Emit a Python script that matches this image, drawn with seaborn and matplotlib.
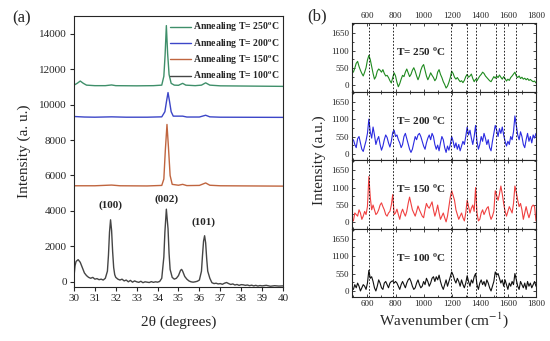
import matplotlib
matplotlib.use("Agg")
import matplotlib.pyplot as plt
import numpy as np
import seaborn as sns

# ---- XRD data (panel a) ----
xrd_x_100 = [30.0, 30.05, 30.1, 30.2, 30.3, 30.4, 30.5, 30.6, 30.7, 30.8, 30.9, 31.0, 31.1, 31.2,
             31.3, 31.4, 31.5, 31.6, 31.65, 31.7, 31.75, 31.8, 31.85, 31.9, 31.95, 32.0, 32.1, 32.2,
             32.3, 32.4, 32.5, 32.6, 32.7, 32.8, 32.9, 33.0, 33.1, 33.2, 33.3, 33.4, 33.5, 33.6, 33.7,
             33.8, 33.9, 34.0, 34.1, 34.2, 34.3, 34.35, 34.42, 34.5, 34.55, 34.6, 34.7, 34.8, 34.9,
             35.0, 35.1, 35.15, 35.2, 35.3, 35.4, 35.5, 35.6, 35.7, 35.8, 35.9, 36.0, 36.1, 36.15,
             36.2, 36.25, 36.3, 36.35, 36.4, 36.5, 36.6, 36.7, 36.8, 36.9, 37.0, 37.1, 37.2, 37.3,
             37.4, 37.5, 37.6, 37.7, 37.8, 37.9, 38.0, 38.1, 38.2, 38.3, 38.4, 38.5, 38.6, 38.7,
             38.8, 38.9, 39.0, 39.2, 39.4, 39.6, 39.8, 40.0]
xrd_y_100 = [300, 900, 1150, 1250, 1100, 800, 500, 350, 250, 200, 250, 150, 180, 120,
             150, 100, 200, 600, 1500, 2800, 3500, 2900, 1700, 800, 400, 250, 150, 100,
             150, 50, 100, 0, 80, -20, 50, 0, -30, 30, -50, 0, -20, -40, 10,
             -30, 0, -20, 20, 200, 1400, 2800, 4100, 3000, 1600, 700, 250, 150, 200,
             350, 650, 700, 600, 300, 150, 50, 0, -20, 0, 30, 100, 600, 1500,
             2300, 2600, 2200, 1300, 600, 200, -50, -100, -80, -120, -100, -140, -80, -40,
             -100, -150, -120, -180, -150, -200, -160, -170, -200, -180, -220, -190, -230, -200,
             -240, -210, -230, -200, -250, -220, -240, -230]

xrd_x_150 = [30.0, 31.0, 31.8, 32.2, 33.5, 34.2, 34.3, 34.37, 34.45, 34.52, 34.6, 34.7, 35.0,
             35.2, 35.4, 36.0, 36.3, 36.5, 37.0, 40.0]
xrd_y_150 = [5420, 5420, 5460, 5420, 5410, 5440, 5800, 7400, 8880, 7600, 6000, 5500, 5450,
             5500, 5430, 5440, 5580, 5450, 5420, 5400]

xrd_x_200 = [30.0, 30.5, 31.0, 31.8, 32.5, 33.5, 34.2, 34.35, 34.43, 34.5, 34.57, 34.65, 34.75,
             35.2, 35.4, 36.0, 36.3, 36.5, 37.0, 40.0]
xrd_y_200 = [9330, 9300, 9290, 9310, 9290, 9290, 9310, 9600, 10200, 10680, 10200, 9600, 9350,
             9350, 9300, 9300, 9400, 9310, 9290, 9280]

xrd_x_250 = [30.0, 30.15, 30.3, 30.45, 30.6, 31.0, 31.5, 31.8, 32.0, 33.0, 33.8, 34.2, 34.3,
             34.36, 34.42, 34.48, 34.55, 34.65, 34.8, 35.0, 35.2, 35.35, 35.8, 36.1, 36.3, 36.5,
             37.0, 38.0, 39.0, 40.0]
xrd_y_250 = [11100, 11200, 11330, 11200, 11100, 11070, 11070, 11110, 11070, 11060, 11070, 11100,
             11600, 12800, 14460, 12900, 11700, 11200, 11100, 11090, 11200, 11100, 11070, 11100,
             11230, 11100, 11060, 11050, 11040, 11030]

xrd_labels = ["Annealing T= 250$^{\\mathbf{o}}$C", "Annealing T= 200$^{\\mathbf{o}}$C",
              "Annealing T= 150$^{\\mathbf{o}}$C", "Annealing T= 100$^{\\mathbf{o}}$C"]
peak_names = ["(100)", "(002)", "(101)"]
peak_x = [31.75, 34.42, 36.22]
peak_y = [4350, 4690, 3390]

# ---- Raman data (panel b), 500..1800 cm-1 every 10 ----
wavenumber = list(range(500, 1801, 10))
raman_250 = [420, 550, 700, 760, 600, 480, 380, 300, 420, 560, 800, 950, 820, 600, 380, 200,
             280, 450, 520, 480, 420, 500, 380, 300, 320, 250, 150, 80, 250, 400, 300, 100,
             -40, 60, 200, 320, 280, 420, 520, 400, 280, 350, 480, 560, 450, 300, 180, 300,
             480, 600, 660, 480, 300, 180, 280, 400, 320, 250, 150, 220, 420, 500, 350, 250,
             120, 30, -80, -20, 100, 250, 450, 380, 260, 200, 250, 180, 120, 150, 90, 160,
             280, 350, 260, 300, 360, 220, 120, 200, 150, 230, 300, 350, 420, 380, 300, 250,
             200, 150, 120, 200, 280, 230, 300, 250, 330, 260, 200, 280, 220, 140, 200, 160,
             250, 300, 360, 420, 300, 250, 300, 220, 260, 200, 230, 180, 220, 160, 190, 150,
             120, 140, 80]
raman_200 = [450, 300, 200, 480, 550, 350, 150, 80, 250, 420, 650, 1100, 700, 500, 850, 600,
             300, 450, 550, 300, 120, 250, 450, 600, 520, 350, 220, 400, 680, 750, 550, 600,
             450, 350, 200, 300, 550, 650, 480, 300, 150, 50, 150, 350, 550, 450, 600, 650,
             550, 400, 250, 150, 350, 500, 600, 450, 650, 550, 300, 150, 280, 100, 350, 550,
             450, 200, 50, 250, 120, 300, 550, 400, 200, 350, 150, 300, 100, 250, 400, 300,
             550, 850, 600, 750, 500, 300, 550, 900, 400, 150, 300, 550, 400, 650, 500, 300,
             450, 200, 100, 400, 650, 900, 750, 550, 800, 650, 850, 600, 400, 250, 400, 300,
             550, 450, 700, 1200, 900, 600, 450, 700, 550, 300, 200, 450, 650, 400, 550, 350,
             600, 500, 650]
raman_150 = [50, 300, 250, 200, 400, 300, 100, 200, 350, 250, 500, 1450, 800, 400, 550, 400,
             250, 300, 400, 550, 620, 500, 400, 250, 200, 300, 350, 550, 880, 250, 300, 420,
             250, 100, 300, 420, 300, 200, 350, 600, 800, 600, 400, 300, 200, 350, 520, 400,
             300, 200, 150, 400, 600, 500, 450, 550, 650, 400, 200, 350, 550, 300, 100, 200,
             300, 150, 20, 200, 500, 800, 1000, 850, 700, 400, 250, 100, 200, 300, 150, 50,
             300, 700, 500, 300, 450, 550, 350, 1100, 300, 50, 100, 300, 400, 250, 350, 450,
             500, 250, 100, 200, 350, 1000, 850, 700, 900, 1150, 900, 600, 350, 200, 350, 500,
             400, 300, 600, 1150, 950, 700, 500, 600, 400, 100, 300, 500, 300, 150, 300, 500,
             550, 500, 50]
raman_100 = [50, 200, 100, 250, 150, 0, 100, 200, 150, 50, 250, 650, 400, 450, 300, 100,
             0, 150, 350, 250, 100, 50, 250, 300, 200, 100, 250, 300, 320, 250, 300, 250,
             150, 50, 200, 300, 200, 100, 250, 350, 400, 300, 150, 50, 100, 250, 350, 200,
             100, 150, 300, 200, 400, 300, 150, 250, 400, 450, 300, 450, 350, 500, 300, 150,
             50, 200, 350, 150, 300, 450, 600, 500, 350, 250, 400, 300, 150, 350, 200, 100,
             250, 480, 300, 150, 350, 250, 450, 550, 200, 50, 250, 350, 200, 300, 150, 350,
             250, 100, 0, 150, 300, 600, 500, 550, 400, 250, 350, 150, 350, 200, 50, 250,
             150, 300, 200, 550, 350, 150, 50, 300, 200, 100, 250, 50, 300, 150, 250, 100,
             200, 300, 150]
raman_titles = ["T= 250 $^{\\mathbf{o}}$C", "T= 200 $^{\\mathbf{o}}$C",
                "T= 150 $^{\\mathbf{o}}$C", "T= 100 $^{\\mathbf{o}}$C"]
dashed_pos = [610, 780, 1195, 1310, 1370, 1515, 1575, 1655]

xrd_colors = ["#3f8f6a", "#3c46c8", "#c0653f", "#454545"]
raman_colors = ["#1f8a1f", "#2a2ae0", "#f04040", "#111111"]

sns.set_style("ticks")
plt.rcParams["font.family"] = ["Liberation Serif", "DejaVu Serif"]
plt.rcParams["mathtext.fontset"] = "stix"
plt.rcParams["axes.linewidth"] = 0.8

fig = plt.figure(figsize=(5.5, 3.41), dpi=100)

# ---- panel (a) ----
ax = fig.add_axes([0.1345, 0.158, 0.380, 0.795])
xrd_sets = [(xrd_x_250, xrd_y_250), (xrd_x_200, xrd_y_200),
            (xrd_x_150, xrd_y_150), (xrd_x_100, xrd_y_100)]
for (xs, ys), c, lab in zip(xrd_sets, xrd_colors, xrd_labels):
    sns.lineplot(x=xs, y=ys, ax=ax, color=c, lw=1.0, label=lab)
ax.set_xlim(30, 40)
ax.set_ylim(-300, 15000)
ax.set_xticks(range(30, 41))
ax.set_yticks(range(0, 14001, 2000))
ax.tick_params(labelsize=8, length=3, width=0.8, pad=2)
ax.set_xlabel("2θ (degrees)", fontsize=11, labelpad=9)
ax.set_ylabel("Intensity (a. u.)", fontsize=11, labelpad=6)
for s in ax.spines.values():
    s.set_visible(True)
for name, px, py in zip(peak_names, peak_x, peak_y):
    ax.text(px, py, name, ha="center", va="center", fontsize=8, fontweight="bold")
leg = ax.legend(loc="upper right", frameon=False, fontsize=7, handlelength=2.2,
                labelspacing=0.28, borderaxespad=0.1, handletextpad=0.2,
                bbox_to_anchor=(1.01, 1.0))
for t in leg.get_texts():
    t.set_fontweight("bold")
fig.text(0.04, 0.945, "(a)", fontsize=12, ha="center", va="center")

# ---- panel (b) ----
left, bottom, width, height = 0.640, 0.129, 0.3345, 0.8035
raman_sets = [raman_250, raman_200, raman_150, raman_100]
h = height / 4
for i, (vals, c, title) in enumerate(zip(raman_sets, raman_colors, raman_titles)):
    axr = fig.add_axes([left, bottom + (3 - i) * h, width, h])
    sns.lineplot(x=wavenumber, y=vals, ax=axr, color=c, lw=0.8)
    for xv in dashed_pos:
        axr.axvline(xv, color="black", lw=0.6, ls=(0, (2, 2)))
    axr.set_xlim(490, 1800)
    axr.set_ylim(-190, 1970)
    axr.set_xticks(range(600, 1801, 200))
    axr.set_xticks(range(500, 1801, 100), minor=True)
    axr.set_yticks([0, 550, 1100, 1650])
    axr.set_yticks([275, 825, 1375, 1925], minor=True)
    axr.tick_params(which="both", direction="in", top=True, right=True,
                    labelsize=6.5, width=0.6, pad=2)
    axr.tick_params(which="major", length=2.5)
    axr.tick_params(which="minor", length=1.5)
    axr.tick_params(axis="x", labelbottom=(i == 3), labeltop=(i == 0))
    for s in axr.spines.values():
        s.set_visible(True)
    axr.text(980, 1060, title, ha="center", va="center", fontsize=8, fontweight="bold")
    if i == 3:
        axr.set_xlabel("Wavenumber (cm$^{-1}$)", fontsize=11, labelpad=2)

fig.text(0.580, 0.53, "Intensity (a.u.)", rotation=90, fontsize=11, ha="center", va="center")
fig.text(0.577, 0.953, "(b)", fontsize=12, ha="center", va="center")

fig.savefig("out.png", dpi=100)
